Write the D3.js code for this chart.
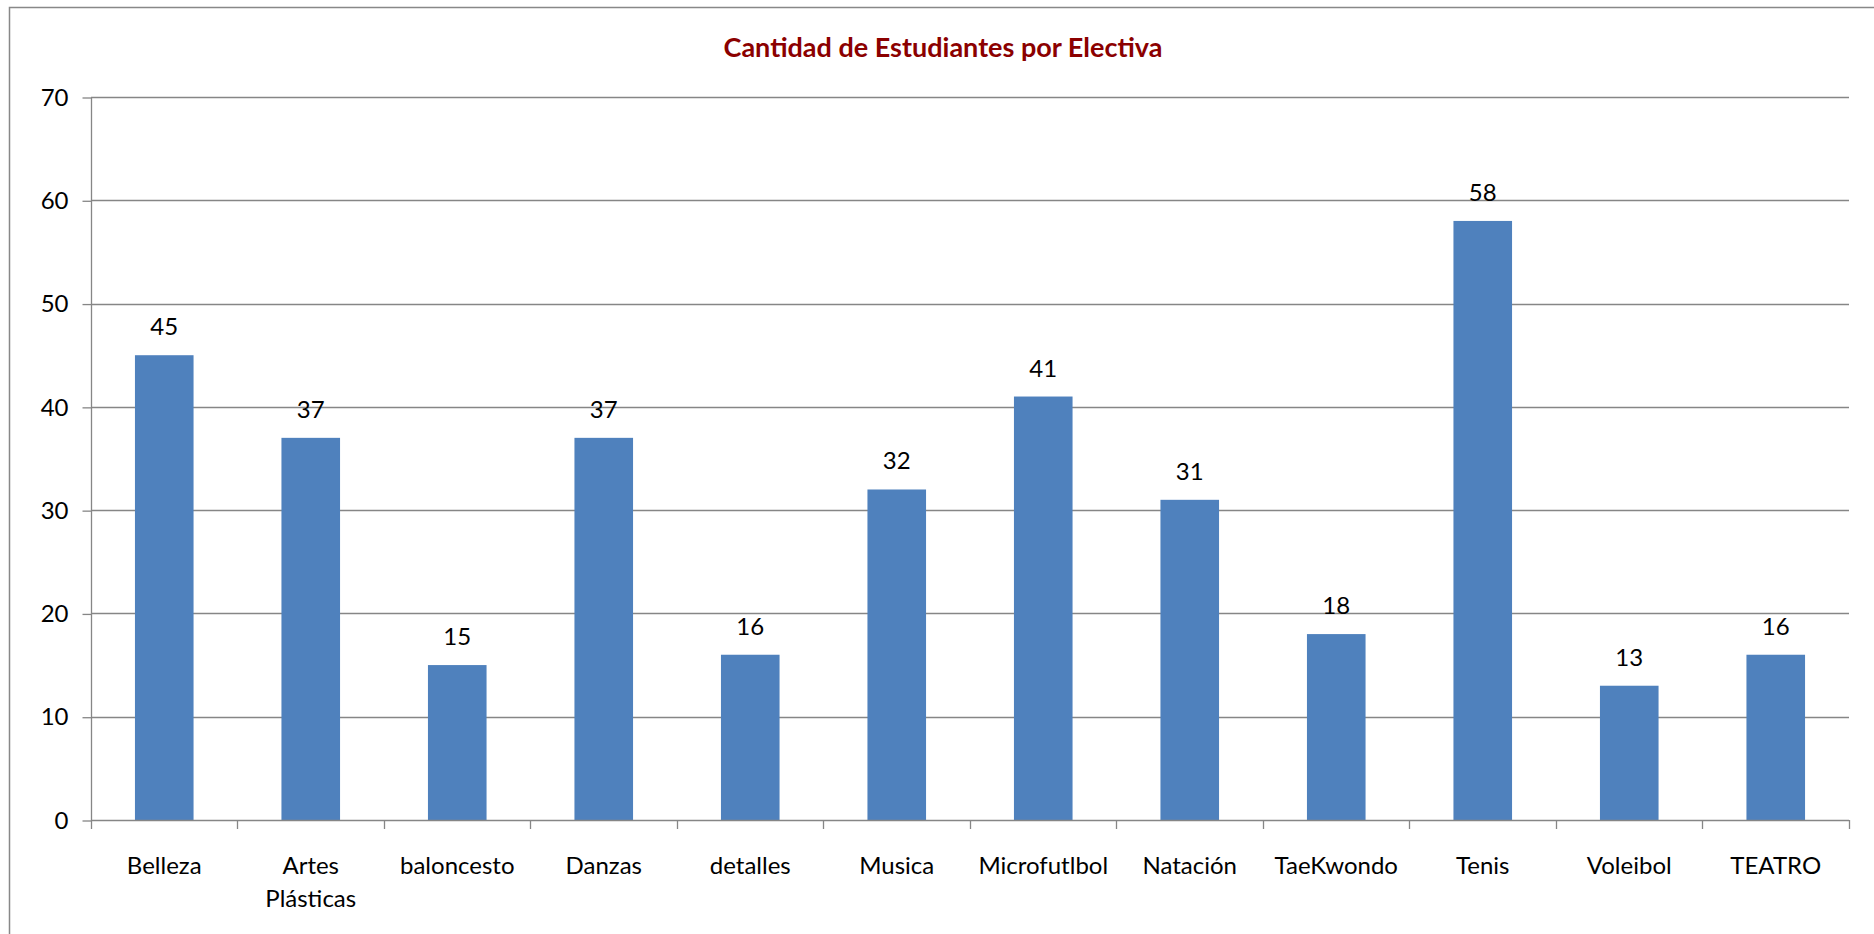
<!DOCTYPE html>
<html><head><meta charset="utf-8">
<script src="https://cdn.jsdelivr.net/npm/d3@7"></script>
<style>html,body{margin:0;padding:0;background:#fff;overflow:hidden} svg{display:block}</style>
</head><body>
<script>
const categories = ["Belleza","Artes Plásticas","baloncesto","Danzas","detalles","Musica","Microfutlbol","Natación","TaeKwondo","Tenis","Voleibol","TEATRO"];
const values = [45,37,15,37,16,32,41,31,18,58,13,16];
const yTicks = [0,10,20,30,40,50,60,70];
const chartTitle = "Cantidad de Estudiantes por Electiva";

const W = 1874, H = 934;
const plot = {left: 91, right: 1849, top: 97, bottom: 820};
const FONT = "Lato, 'Open Sans', sans-serif";
const gridColor = "#868686";

const svg = d3.select("body").append("svg").attr("width", W).attr("height", H);

// chart border (only top & left visible)
svg.append("rect").attr("x", 9.5).attr("y", 7.5).attr("width", W + 20).attr("height", H + 20)
  .attr("fill", "#fff").attr("stroke", "#888").attr("stroke-width", 1.5);

const x = d3.scaleBand().domain(categories).range([plot.left, plot.right])
  .paddingInner(0.6).paddingOuter(0.3);
const y = d3.scaleLinear().domain([0, 70]).range([plot.bottom, plot.top]);

// gridlines
svg.append("g").selectAll("line").data(yTicks.filter(d => d > 0)).join("line")
  .attr("x1", plot.left).attr("x2", plot.right)
  .attr("y1", d => Math.round(y(d)) + 0.5).attr("y2", d => Math.round(y(d)) + 0.5)
  .attr("stroke", gridColor).attr("stroke-width", 1.3);

// y axis
const yAxis = d3.axisLeft(y).tickValues(yTicks).tickSize(9).tickPadding(14).tickFormat(d3.format("d"));
const gy = svg.append("g").attr("transform", `translate(${plot.left + 0.5},0.5)`).call(yAxis);
gy.select(".domain").attr("stroke", gridColor).attr("stroke-width", 1.3).attr("d", `M0,${plot.top}V${plot.bottom}`);
gy.selectAll(".tick line").attr("stroke", gridColor).attr("stroke-width", 1.3);
gy.selectAll(".tick text").attr("font-family", FONT).attr("font-size", 24).attr("fill", "#000");

// bars
svg.append("g").selectAll("rect").data(values).join("rect")
  .attr("x", (d, i) => x(categories[i]))
  .attr("width", x.bandwidth())
  .attr("y", d => y(d))
  .attr("height", d => y(0) - y(d))
  .attr("fill", "#4F81BD");

// x axis line and category boundary ticks
const step = x.step();
const bounds = categories.map(c => x(c) - (step - x.bandwidth()) / 2);
bounds.push(x(categories[categories.length - 1]) + x.bandwidth() + (step - x.bandwidth()) / 2);
svg.append("line").attr("x1", plot.left).attr("x2", plot.right)
  .attr("y1", Math.round(y(0)) + 0.5).attr("y2", Math.round(y(0)) + 0.5)
  .attr("stroke", gridColor).attr("stroke-width", 1.3);
svg.append("g").selectAll("line").data(bounds).join("line")
  .attr("x1", d => Math.round(d) + 0.5).attr("x2", d => Math.round(d) + 0.5)
  .attr("y1", y(0)).attr("y2", y(0) + 9)
  .attr("stroke", gridColor).attr("stroke-width", 1.3);

// category labels
const lab = svg.append("g").selectAll("text").data(categories).join("text")
  .attr("x", d => x(d) + x.bandwidth() / 2)
  .attr("y", y(0) + 54)
  .attr("text-anchor", "middle")
  .attr("font-family", FONT).attr("font-size", 24).attr("fill", "#000");
lab.each(function(d) {
  const parts = d.split(" ");
  const t = d3.select(this);
  parts.forEach((p, j) => {
    t.append("tspan").attr("x", x(d) + x.bandwidth() / 2).attr("dy", j === 0 ? 0 : 33).text(p);
  });
});

// data labels
svg.append("g").selectAll("text").data(values).join("text")
  .attr("x", (d, i) => x(categories[i]) + x.bandwidth() / 2)
  .attr("y", d => y(d) - 20)
  .attr("text-anchor", "middle")
  .attr("font-family", FONT).attr("font-size", 24).attr("fill", "#000")
  .text(d => d);

// title
svg.append("text").attr("x", 943).attr("y", 57).attr("text-anchor", "middle")
  .attr("font-family", FONT).attr("font-weight", "bold").attr("font-size", 27)
  .attr("fill", "#8B0000").text(chartTitle);
</script>
</body></html>
